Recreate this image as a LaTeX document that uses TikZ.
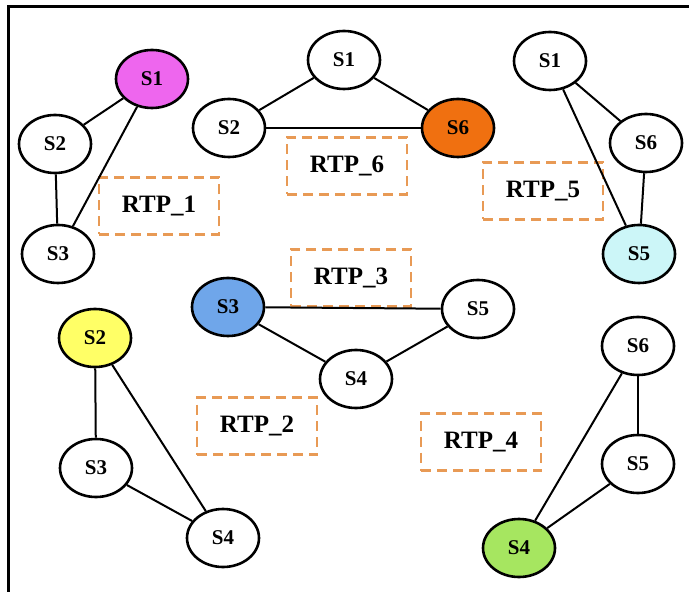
\documentclass[tikz,border=0pt]{standalone}
\usepackage{fontspec}
\setmainfont{Liberation Serif}
\usetikzlibrary{shapes.geometric}
\definecolor{cmag}{HTML}{EE66EE}
\definecolor{corange}{HTML}{F07010}
\definecolor{ccyan}{HTML}{CCF6F8}
\definecolor{cblue}{HTML}{6FA6EA}
\definecolor{cyellow}{HTML}{FFFF66}
\definecolor{cgreen}{HTML}{A6E660}
\definecolor{cdash}{HTML}{E89A55}
\tikzset{
  srv/.style={ellipse, draw=black, line width=1.3pt, fill=white, minimum width=36pt, minimum height=29pt, inner sep=0pt, font=\bfseries\fontsize{10.5}{12}\selectfont},
  rtp/.style={draw=cdash, line width=1.1pt, dash pattern=on 5pt off 3pt, minimum width=60pt, minimum height=28.5pt, inner sep=0pt, font=\bfseries\fontsize{12.5}{14}\selectfont},
  link/.style={line width=1pt, black},
  frame/.style={line width=1.5pt, black}
}
\begin{document}
\begin{tikzpicture}[x=0.5pt, y=-0.5pt]
\useasboundingbox (0,0) rectangle (689,592);
\coordinate (fa) at (8,7);
\coordinate (fb) at (689,7);
\coordinate (fc) at (8,592);
\draw[frame] (fb) -- (fa) -- (fc);

% dashed labels
\node[rtp] (r1) at (159,206) {RTP\_1};
\node[rtp] (r6) at (347,166) {RTP\_6};
\node[rtp] (r5) at (543,191) {RTP\_5};
\node[rtp] (r3) at (351,278) {RTP\_3};
\node[rtp] (r2) at (257,426) {RTP\_2};
\node[rtp] (r4) at (481,442) {RTP\_4};

% group 1
\node[srv, fill=cmag] (a1) at (152,79) {S1};
\node[srv] (a2) at (55,144) {S2};
\node[srv] (a3) at (58,254) {S3};
% group 6
\node[srv] (b1) at (344,60) {S1};
\node[srv] (b2) at (229,128) {S2};
\node[srv, fill=corange] (b6) at (458,128) {S6};
% group 5
\node[srv] (c1) at (550,61) {S1};
\node[srv] (c6) at (646,143) {S6};
\node[srv, fill=ccyan] (c5) at (639,254) {S5};
% group 3
\node[srv, fill=cblue] (d3) at (228,307) {S3};
\node[srv] (d5) at (478,309) {S5};
\node[srv] (d4) at (356,379) {S4};
% group 2
\node[srv, fill=cyellow] (e2) at (95,338) {S2};
\node[srv] (e3) at (96,468) {S3};
\node[srv] (e4) at (223,538) {S4};
% group 4
\node[srv] (f6) at (638,346) {S6};
\node[srv] (f5) at (638,464) {S5};
\node[srv, fill=cgreen] (f4) at (519,548) {S4};

\draw[link] (a1) -- (a2);
\draw[link] (a1) -- (a3);
\draw[link] (a2) -- (a3);
\draw[link] (b1) -- (b2);
\draw[link] (b1) -- (b6);
\draw[link] (b2) -- (b6);
\draw[link] (c1) -- (c6);
\draw[link] (c1) -- (c5);
\draw[link] (c6) -- (c5);
\draw[link] (d3) -- (d5);
\draw[link] (d3) -- (d4);
\draw[link] (d4) -- (d5);
\draw[link] (e2) -- (e3);
\draw[link] (e2) -- (e4);
\draw[link] (e3) -- (e4);
\draw[link] (f6) -- (f5);
\draw[link] (f6) -- (f4);
\draw[link] (f5) -- (f4);
\end{tikzpicture}
\end{document}
